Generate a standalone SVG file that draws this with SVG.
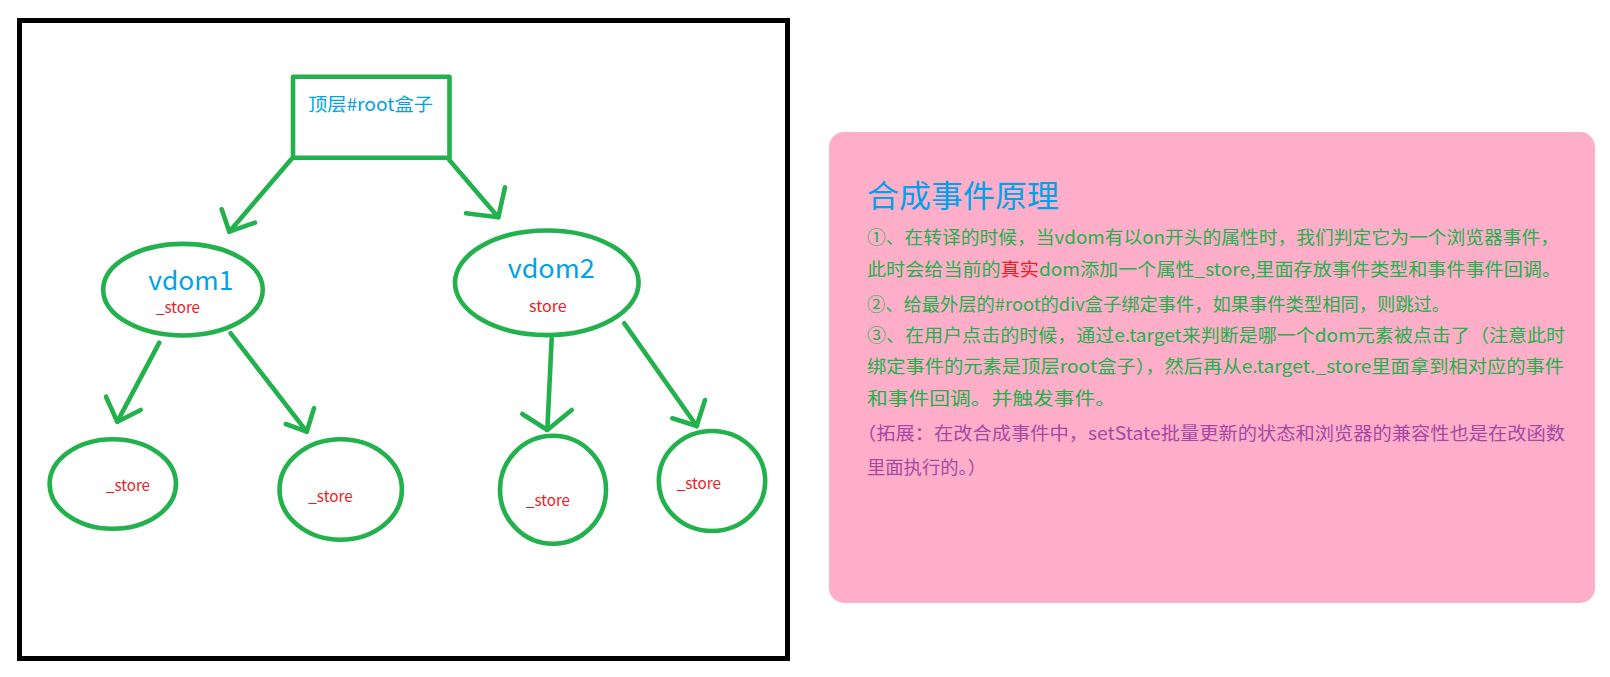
<svg xmlns="http://www.w3.org/2000/svg" width="1610" height="677" viewBox="0 0 1610 677">
<style>
.g{fill:none;stroke:#22b14c;stroke-width:4.6;stroke-linecap:round;stroke-linejoin:round}
.t{font-family:"Noto Sans CJK SC","Noto Sans",sans-serif}
.blue{fill:#00a2e8}
.red{fill:#ed1c24}
.grn{fill:#22b14c}
.pur{fill:#a349a4}
.st{font-size:15px}
.vd{font-size:26px}
.body{font-size:18px}
</style>
<rect x="0" y="0" width="1610" height="677" fill="#ffffff"/>
<rect id="frame" x="19.5" y="20.5" width="768" height="638" fill="none" stroke="#000" stroke-width="5"/>
<g id="root">
<rect x="293" y="76.7" width="156.5" height="81" class="g" stroke-linecap="butt" stroke-linejoin="miter"/>
<text class="t blue" x="308" y="111" font-size="18" textLength="125" lengthAdjust="spacingAndGlyphs">顶层#root盒子</text>
</g>
<g id="vdom1">
<ellipse cx="183" cy="289.7" rx="79.8" ry="45.8" class="g"/>
<text class="t blue vd" x="148.3" y="290" textLength="85" lengthAdjust="spacingAndGlyphs">vdom1</text>
<text class="t red st" x="156" y="312.7" textLength="44" lengthAdjust="spacingAndGlyphs">_store</text>
</g>
<g id="vdom2">
<ellipse cx="546.8" cy="282.8" rx="91.8" ry="52.3" class="g"/>
<text class="t blue vd" x="507.7" y="277.7" textLength="87" lengthAdjust="spacingAndGlyphs">vdom2</text>
<text class="t red st" x="529" y="311.7" textLength="37.7" lengthAdjust="spacingAndGlyphs">store</text>
</g>
<g id="c1">
<ellipse cx="112.8" cy="484" rx="63.2" ry="44.8" class="g"/>
<text class="t red st" x="106" y="490.7" textLength="44" lengthAdjust="spacingAndGlyphs">_store</text>
</g>
<g id="c2">
<ellipse cx="340.7" cy="489.5" rx="61.2" ry="50.2" class="g"/>
<text class="t red st" x="308.3" y="501.7" textLength="44.4" lengthAdjust="spacingAndGlyphs">_store</text>
</g>
<g id="c3">
<ellipse cx="553" cy="489.7" rx="53" ry="54" class="g"/>
<text class="t red st" x="526" y="506" textLength="44" lengthAdjust="spacingAndGlyphs">_store</text>
</g>
<g id="c4">
<ellipse cx="712" cy="481" rx="53.2" ry="50" class="g"/>
<text class="t red st" x="676.7" y="489.3" textLength="44.3" lengthAdjust="spacingAndGlyphs">_store</text>
</g>
<g id="connectors">
<polyline class="g" points="291.5,159 229.3,231.7"/>
<polyline class="g" points="221.7,209.3 229.3,231.7 255,222.7"/>
<polyline class="g" points="449.3,160 498.3,217.3"/>
<polyline class="g" points="505,187.3 498.3,217.3 466,213.3"/>
<polyline class="g" points="159.3,342.7 117.3,421.7"/>
<polyline class="g" points="106,396.7 117.3,421.7 140.7,410"/>
<polyline class="g" points="230.7,333.3 306.7,431.7"/>
<polyline class="g" points="314,408.3 306.7,431.7 285.7,424"/>
<polyline class="g" points="551.7,338.3 547.3,430"/>
<polyline class="g" points="522.3,414 547.3,430 571.7,410"/>
<polyline class="g" points="624.3,323.3 696.7,426"/>
<polyline class="g" points="705,400 696.7,426 672.3,418.3"/>
</g>
<g id="panel">
<rect x="829" y="132" width="766" height="471" rx="15" ry="15" fill="#ffaec9"/>
<text class="t blue" x="867" y="207" font-size="31" textLength="192" lengthAdjust="spacingAndGlyphs">合成事件原理</text>
<text class="t grn body" x="867" y="244" textLength="692" lengthAdjust="spacingAndGlyphs">①、在转译的时候，当vdom有以on开头的属性时，我们判定它为一个浏览器事件，</text>
<text class="t grn body" x="867" y="276" textLength="694" lengthAdjust="spacingAndGlyphs">此时会给当前的<tspan class="red">真实</tspan>dom添加一个属性_store,里面存放事件类型和事件事件回调。</text>
<text class="t grn body" x="867" y="311" textLength="583" lengthAdjust="spacingAndGlyphs">②、给最外层的#root的div盒子绑定事件，如果事件类型相同，则跳过。</text>
<text class="t grn body" x="867" y="342" textLength="698" lengthAdjust="spacingAndGlyphs">③、在用户点击的时候，通过e.target来判断是哪一个dom元素被点击了（注意此时</text>
<text class="t grn body" x="867" y="373" textLength="697" lengthAdjust="spacingAndGlyphs">绑定事件的元素是顶层root盒子），然后再从e.target._store里面拿到相对应的事件</text>
<text class="t grn body" x="867" y="405" textLength="249" lengthAdjust="spacingAndGlyphs">和事件回调。并触发事件。</text>
<text class="t pur body" x="857" y="440" textLength="708" lengthAdjust="spacingAndGlyphs">（拓展：在改合成事件中，setState批量更新的状态和浏览器的兼容性也是在改函数</text>
<text class="t pur body" x="867" y="474" textLength="119" lengthAdjust="spacingAndGlyphs">里面执行的。）</text>
</g>
</svg>
